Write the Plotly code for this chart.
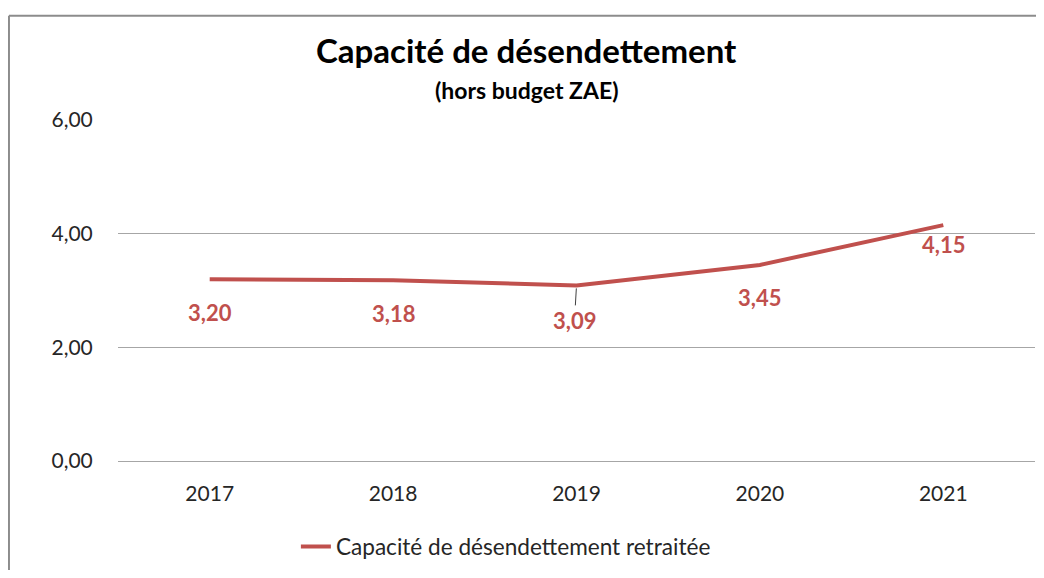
import plotly.graph_objects as go

years = ["2017", "2018", "2019", "2020", "2021"]
capacite = [3.20, 3.18, 3.09, 3.45, 4.15]
label_shift = [-33, -33, -35, -33, -19]
y_ticks = [0, 2, 4, 6]
y_tick_text = ["0,00", "2,00", "4,00", "6,00"]

RED = "#C0504D"
FONT = "Lato, 'Open Sans', sans-serif"

fig = go.Figure()
fig.add_trace(go.Scatter(x=years, y=capacite, mode="lines",
                         name="Capacité de désendettement retraitée",
                         line=dict(color=RED, width=4)))

# data labels (x given as category index)
for i, (v, dy) in enumerate(zip(capacite, label_shift)):
    txt = f"<b>{v:.2f}</b>".replace(".", ",")
    if years[i] == "2019":
        # small leader line, like the original
        fig.add_annotation(x=i, y=v, xref="x", yref="y", text=txt, showarrow=True,
                           arrowhead=0, arrowwidth=1, arrowcolor="#404040",
                           ax=-2, ay=-dy, standoff=3,
                           font=dict(family=FONT, size=22, color=RED))
    else:
        fig.add_annotation(x=i, y=v, xref="x", yref="y", text=txt, showarrow=False,
                           yshift=dy, font=dict(family=FONT, size=22, color=RED))

fig.add_annotation(x=0.446, y=1.2046, xref="paper", yref="paper", showarrow=False,
                   yanchor="middle", text="<b>Capacité de désendettement</b>",
                   font=dict(family=FONT, size=33, color="#000000"))
fig.add_annotation(x=0.446, y=1.089, xref="paper", yref="paper", showarrow=False,
                   yanchor="middle", text="<b>(hors budget ZAE)</b>",
                   font=dict(family=FONT, size=23, color="#000000"))

# chart frame (left and top edges visible in the original)
fig.add_shape(type="line", xref="paper", yref="paper", x0=-0.1189, x1=-0.1189,
              y0=-0.4, y1=1.3055, line=dict(color="#8C8C8C", width=2))
fig.add_shape(type="line", xref="paper", yref="paper", x0=-0.1189, x1=1.05,
              y0=1.3055, y1=1.3055, line=dict(color="#8C8C8C", width=2))

fig.update_layout(
    width=1028, height=562, paper_bgcolor="white", plot_bgcolor="white",
    margin=dict(l=110, r=1, t=112, b=103),
    font=dict(family=FONT, size=21, color="#262626"),
    showlegend=True,
    legend=dict(orientation="h", x=0.423, xanchor="center", y=-0.252, yanchor="middle",
                font=dict(size=22.6, color="#262626")),
    xaxis=dict(type="category", categoryorder="array", categoryarray=years,
               range=[-0.5, len(years) - 0.5], autorange=False,
               showgrid=False, showline=False,
               ticks="outside", ticklen=14, tickcolor="rgba(0,0,0,0)",
               tickfont=dict(size=21)),
    yaxis=dict(range=[0, 6], autorange=False, tickvals=y_ticks, ticktext=y_tick_text,
               showgrid=True, gridcolor="#A6A6A6", gridwidth=1,
               zeroline=True, zerolinecolor="#A6A6A6", zerolinewidth=1,
               showline=False, ticks="outside", ticklen=20,
               tickcolor="rgba(0,0,0,0)", tickfont=dict(size=21)),
)

fig.write_html("out.html")
